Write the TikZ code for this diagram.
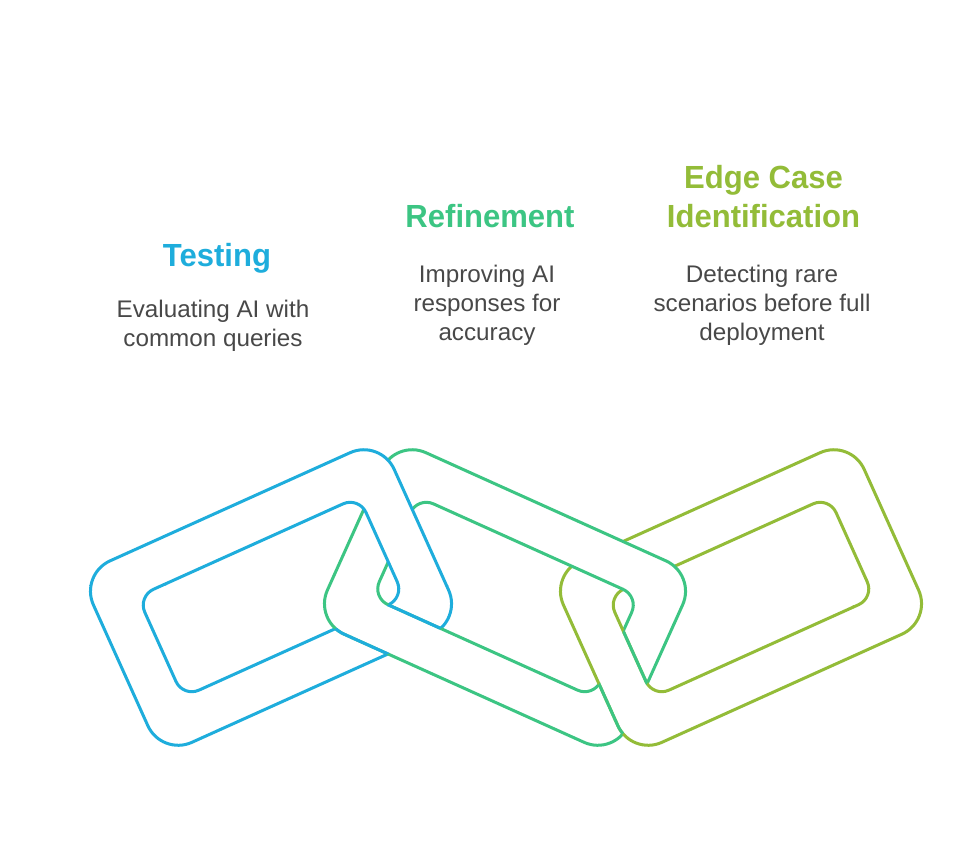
\documentclass[tikz,border=0pt]{standalone}
\usepackage{fontspec}
\setmainfont{Liberation Sans}
\newfontfamily\titlefont[FakeStretch=0.97]{Liberation Sans Bold}
\newfontfamily\bodyfont[FakeStretch=1.01]{Liberation Sans}
\definecolor{cblue}{HTML}{1EADDC}
\definecolor{cgreen}{HTML}{3CC583}
\definecolor{clime}{HTML}{93BC38}
\definecolor{ctext}{HTML}{484848}
% corners of a rotated rectangle: name, cx, cy, ux, uy, a, b
\newcommand{\mkcorners}[7]{%
  \coordinate (#11) at ({#2-#6*(#4)-#7*(-(#5))},{#3-#6*(#5)-#7*(#4)});
  \coordinate (#12) at ({#2+#6*(#4)-#7*(-(#5))},{#3+#6*(#5)-#7*(#4)});
  \coordinate (#13) at ({#2+#6*(#4)+#7*(-(#5))},{#3+#6*(#5)+#7*(#4)});
  \coordinate (#14) at ({#2-#6*(#4)+#7*(-(#5))},{#3-#6*(#5)+#7*(#4)});
}
\newcommand{\bandpath}[1]{[rounded corners=25pt] (#1O1)--(#1O2)--(#1O3)--(#1O4)--cycle
  [rounded corners=13pt] (#1I1)--(#1I2)--(#1I3)--(#1I4)--cycle}
\tikzset{
  ring/.style={even odd rule, fill=white, draw=#1, line width=2.25pt, line join=round},
  edge/.style={even odd rule, draw=#1, line width=2.25pt, line join=round},
  title/.style={align=center, inner sep=0pt, text=#1, font=\titlefont\fontsize{24}{29.25}\selectfont},
  body/.style={align=center, inner sep=0pt, text=ctext, font=\bodyfont\fontsize{18}{21.75}\selectfont}
}
\begin{document}
\begin{tikzpicture}[x=0.75pt,y=-0.75pt]
\useasboundingbox (0,0) rectangle (980,863);
\fill[white] (0,0) rectangle (980,863);
% ring geometry
\mkcorners{BO}{271}{597.5}{0.912}{-0.411}{164.9}{99.5}
\mkcorners{BI}{271}{597}{0.912}{-0.411}{121.3}{55.3}
\mkcorners{GO}{505}{597.5}{0.912}{0.411}{164.9}{99.5}
\mkcorners{GI}{505.5}{597}{0.912}{0.411}{121.3}{55.3}
\mkcorners{LO}{741}{597.5}{0.912}{-0.411}{164.9}{99.5}
\mkcorners{LI}{741}{597}{0.912}{-0.411}{121.3}{55.3}
% parts that pass under the green ring
\begin{scope}
  \clip (0,585) rectangle (500,863);
  \path[ring=cblue] \bandpath{B};
\end{scope}
\begin{scope}
  \clip (500,0) rectangle (980,605);
  \path[ring=clime] \bandpath{L};
\end{scope}
% green ring
\path[ring=cgreen] \bandpath{G};
% parts that pass over the green ring
\begin{scope}
  \clip (0,0) rectangle (500,585);
  \path[ring=cblue] \bandpath{B};
\end{scope}
\begin{scope}
  \clip (500,605) rectangle (980,863);
  \path[ring=clime] \bandpath{L};
\end{scope}
% shared edges take the colour of the left ring
\begin{scope}[even odd rule]
  \clip (0,585) rectangle (500,863);
  \clip \bandpath{B};
  \path[edge=cblue] \bandpath{G};
\end{scope}
\begin{scope}[even odd rule]
  \clip (500,605) rectangle (980,863);
  \clip \bandpath{G};
  \path[edge=cgreen] \bandpath{L};
\end{scope}
% labels
\node[title=cblue] (t1) at (217,258) {Testing};
\node[body] (b1) at (213,325.5) {Evaluating AI with\\common queries};
\node[title=cgreen] (t2) at (490,216) {Refinement};
\node[body] (b2) at (487,305) {Improving AI\\responses for\\accuracy};
\node[title=clime] (t3) at (763.5,196.5) {Edge Case\\Identification};
\node[body] (b3) at (762,305) {Detecting rare\\scenarios before full\\deployment};
\end{tikzpicture}
\end{document}
